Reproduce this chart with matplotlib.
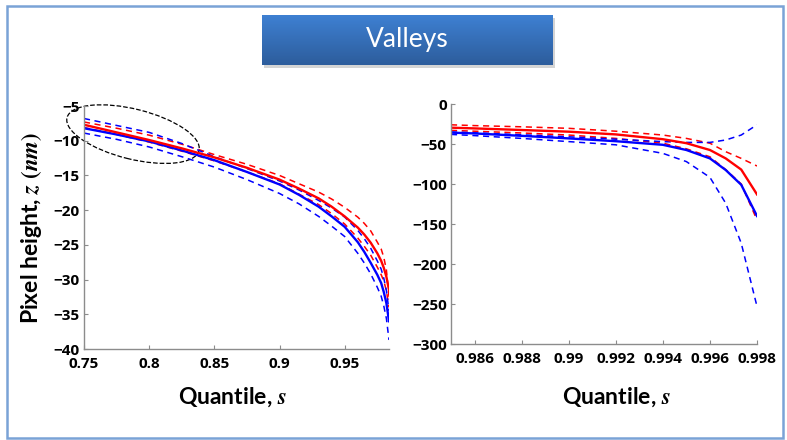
import matplotlib
matplotlib.use('Agg')
import matplotlib.pyplot as plt
import numpy as np
from matplotlib.patches import Rectangle, Ellipse
from matplotlib.transforms import ScaledTranslation

plt.rcParams['font.family'] = ['Lato', 'DejaVu Sans']
plt.rcParams['font.weight'] = 'bold'
plt.rcParams['mathtext.fontset'] = 'stix'

# left panel: quantiles 0.75 .. 0.984
s_low = [0.75, 0.775, 0.80, 0.825, 0.85, 0.875, 0.90, 0.915, 0.93, 0.94, 0.95,
         0.96, 0.965, 0.97, 0.975, 0.978, 0.98, 0.982, 0.984]
red_low = [-7.7, -8.8, -9.9, -11.1, -12.4, -13.9, -15.6, -16.9, -18.3, -19.5, -20.9,
           -22.5, -23.5, -24.7, -26.2, -27.3, -28.3, -29.6, -31.5]
red_low_up = [-7.3, -8.2, -9.2, -10.5, -12.0, -13.4, -15.0, -16.2, -17.4, -18.4, -19.6,
              -21.0, -21.9, -23.0, -24.6, -25.6, -26.8, -28.6, -32.5]
red_low_dn = [-8.1, -9.1, -10.2, -11.5, -12.9, -14.5, -16.2, -17.7, -19.2, -20.5, -22.0,
              -24.0, -25.2, -26.5, -28.2, -29.3, -30.2, -31.6, -34.0]
blue_low = [-8.2, -9.1, -10.1, -11.4, -12.8, -14.5, -16.3, -17.8, -19.5, -20.9, -22.4,
            -24.6, -26.0, -27.6, -29.3, -30.5, -31.8, -33.4, -36.0]
blue_low_up = [-6.8, -7.8, -8.8, -10.4, -12.3, -14.0, -15.8, -17.1, -18.6, -19.7, -21.0,
               -22.9, -24.1, -25.5, -27.3, -28.5, -29.8, -31.6, -34.5]
blue_low_dn = [-8.9, -9.8, -10.9, -12.3, -13.8, -15.6, -17.6, -19.1, -20.9, -22.3, -23.8,
               -26.2, -27.6, -29.2, -31.1, -32.4, -33.8, -35.6, -38.7]

# right panel: extreme quantiles
s_high = [0.985, 0.986, 0.988, 0.990, 0.992, 0.994, 0.995, 0.996, 0.99667, 0.99733, 0.998]
red_high = [-29.6, -30.5, -32.5, -34.6, -38.0, -44.0, -49.0, -57.5, -68.0, -82.0, -113.0]
red_high_up = [-26.0, -27.0, -28.5, -30.4, -34.0, -38.8, -43.0, -49.0, -59.6, -68.0, -77.5]
red_high_dn = [-33.0, -34.0, -36.2, -38.8, -43.0, -49.0, -56.0, -66.0, -82.0, -100.0, -145.0]
blue_high = [-35.8, -36.8, -39.8, -43.0, -46.5, -51.0, -57.5, -68.0, -82.5, -101.0, -140.0]
blue_high_up = [-35.0, -36.0, -38.5, -41.0, -44.0, -47.0, -48.0, -48.0, -45.0, -38.8, -26.0]
blue_high_dn = [-38.0, -39.5, -43.0, -47.0, -51.0, -61.7, -72.0, -91.7, -124.0, -174.0, -253.0]

W, H = 787, 440
fig = plt.figure(figsize=(W / 100, H / 100), dpi=100)

# slide frame
fig.add_artist(Rectangle((7 / W, 1 - 438 / H), 776 / W, 432 / H, transform=fig.transFigure,
                         fill=False, edgecolor='#7aa3d6', linewidth=1.8))

# title banner with gradient
fig.add_artist(Rectangle((264 / W, 1 - 68 / H), 291 / W, 50 / H, transform=fig.transFigure,
                         facecolor='#b8b8b8', edgecolor='none', alpha=0.6, zorder=0))
tax = fig.add_axes([262 / W, 1 - 65 / H, 291 / W, 50 / H])
grad = np.linspace(0, 1, 100).reshape(-1, 1)
cmap = matplotlib.colors.LinearSegmentedColormap.from_list('ban', ['#3e80d2', '#2d5d9c'])
tax.imshow(grad, aspect='auto', cmap=cmap, extent=[0, 1, 0, 1])
tax.text(0.5, 0.5, 'Valleys', color='white', fontsize=19, fontweight='normal',
         ha='center', va='center', transform=tax.transAxes)
tax.set_axis_off()


def style(ax):
    for side in ['top', 'right']:
        ax.spines[side].set_visible(False)
    for side in ['left', 'bottom']:
        ax.spines[side].set_color('#8c8c8c')
        ax.spines[side].set_linewidth(1.0)
    ax.tick_params(direction='in', length=3, color='#8c8c8c', labelsize=11)
    ax.tick_params(axis='x', pad=6)
    ax.tick_params(axis='y', pad=3)
    for lab in ax.get_xticklabels() + ax.get_yticklabels():
        lab.set_fontweight('bold')
        lab.set_family(['Open Sans', 'DejaVu Sans'])


def draw(ax, s, curves):
    for y, c, ls, lw in curves:
        if ls == '--':
            ax.plot(s, y, color=c, linewidth=lw, dashes=(4, 3))
        else:
            ax.plot(s, y, color=c, linewidth=lw)


ax1 = fig.add_axes([84 / W, 1 - 349 / H, 305 / W, 243 / H])
draw(ax1, s_low, [
    (red_low_up, 'red', '--', 1.1), (red_low_dn, 'red', '--', 1.1),
    (blue_low_up, 'blue', '--', 1.1), (blue_low_dn, 'blue', '--', 1.1),
    (blue_low, 'blue', '-', 1.7), (red_low, 'red', '-', 1.7),
])
ax1.set_xlim(0.75, 0.984)
ax1.set_ylim(-40, -5)
ax1.set_xticks([0.75, 0.8, 0.85, 0.9, 0.95])
ax1.set_xticklabels(['0.75', '0.8', '0.85', '0.9', '0.95'])
ax1.set_yticks(range(-40, -4, 5))
style(ax1)
ax1.set_ylabel(r'Pixel height, $z\ (nm)$', fontsize=16.5, fontweight='bold')
ax1.yaxis.set_label_coords(-0.131, 0.5)
ax1.set_xlabel(r'Quantile, $s$', fontsize=16.5, fontweight='bold')
ax1.xaxis.set_label_coords(0.486, -0.15)

# dashed ellipse highlighting the low quantile region
ell = Ellipse((0, 0), 1.36, 0.5, angle=-14, fill=False, edgecolor='black', linestyle='--',
              linewidth=0.9, clip_on=False,
              transform=fig.dpi_scale_trans + ScaledTranslation(0.7876, -9.05, ax1.transData))
ax1.add_artist(ell)

ax2 = fig.add_axes([451 / W, 1 - 344 / H, 306 / W, 240 / H])
draw(ax2, s_high, [
    (red_high_up, 'red', '--', 1.1), (red_high_dn, 'red', '--', 1.1),
    (blue_high_up, 'blue', '--', 1.1), (blue_high_dn, 'blue', '--', 1.1),
    (blue_high, 'blue', '-', 1.7), (red_high, 'red', '-', 1.7),
])
ax2.set_xlim(0.985, 0.998)
ax2.set_ylim(-300, 0)
ax2.set_xticks([0.986, 0.988, 0.99, 0.992, 0.994, 0.996, 0.998])
ax2.set_xticklabels(['0.986', '0.988', '0.99', '0.992', '0.994', '0.996', '0.998'])
ax2.set_yticks(range(-300, 1, 50))
style(ax2)
ax2.set_xlabel(r'Quantile, $s$', fontsize=16.5, fontweight='bold')
ax2.xaxis.set_label_coords(0.54, -0.171)

fig.savefig('out.png', dpi=100)
